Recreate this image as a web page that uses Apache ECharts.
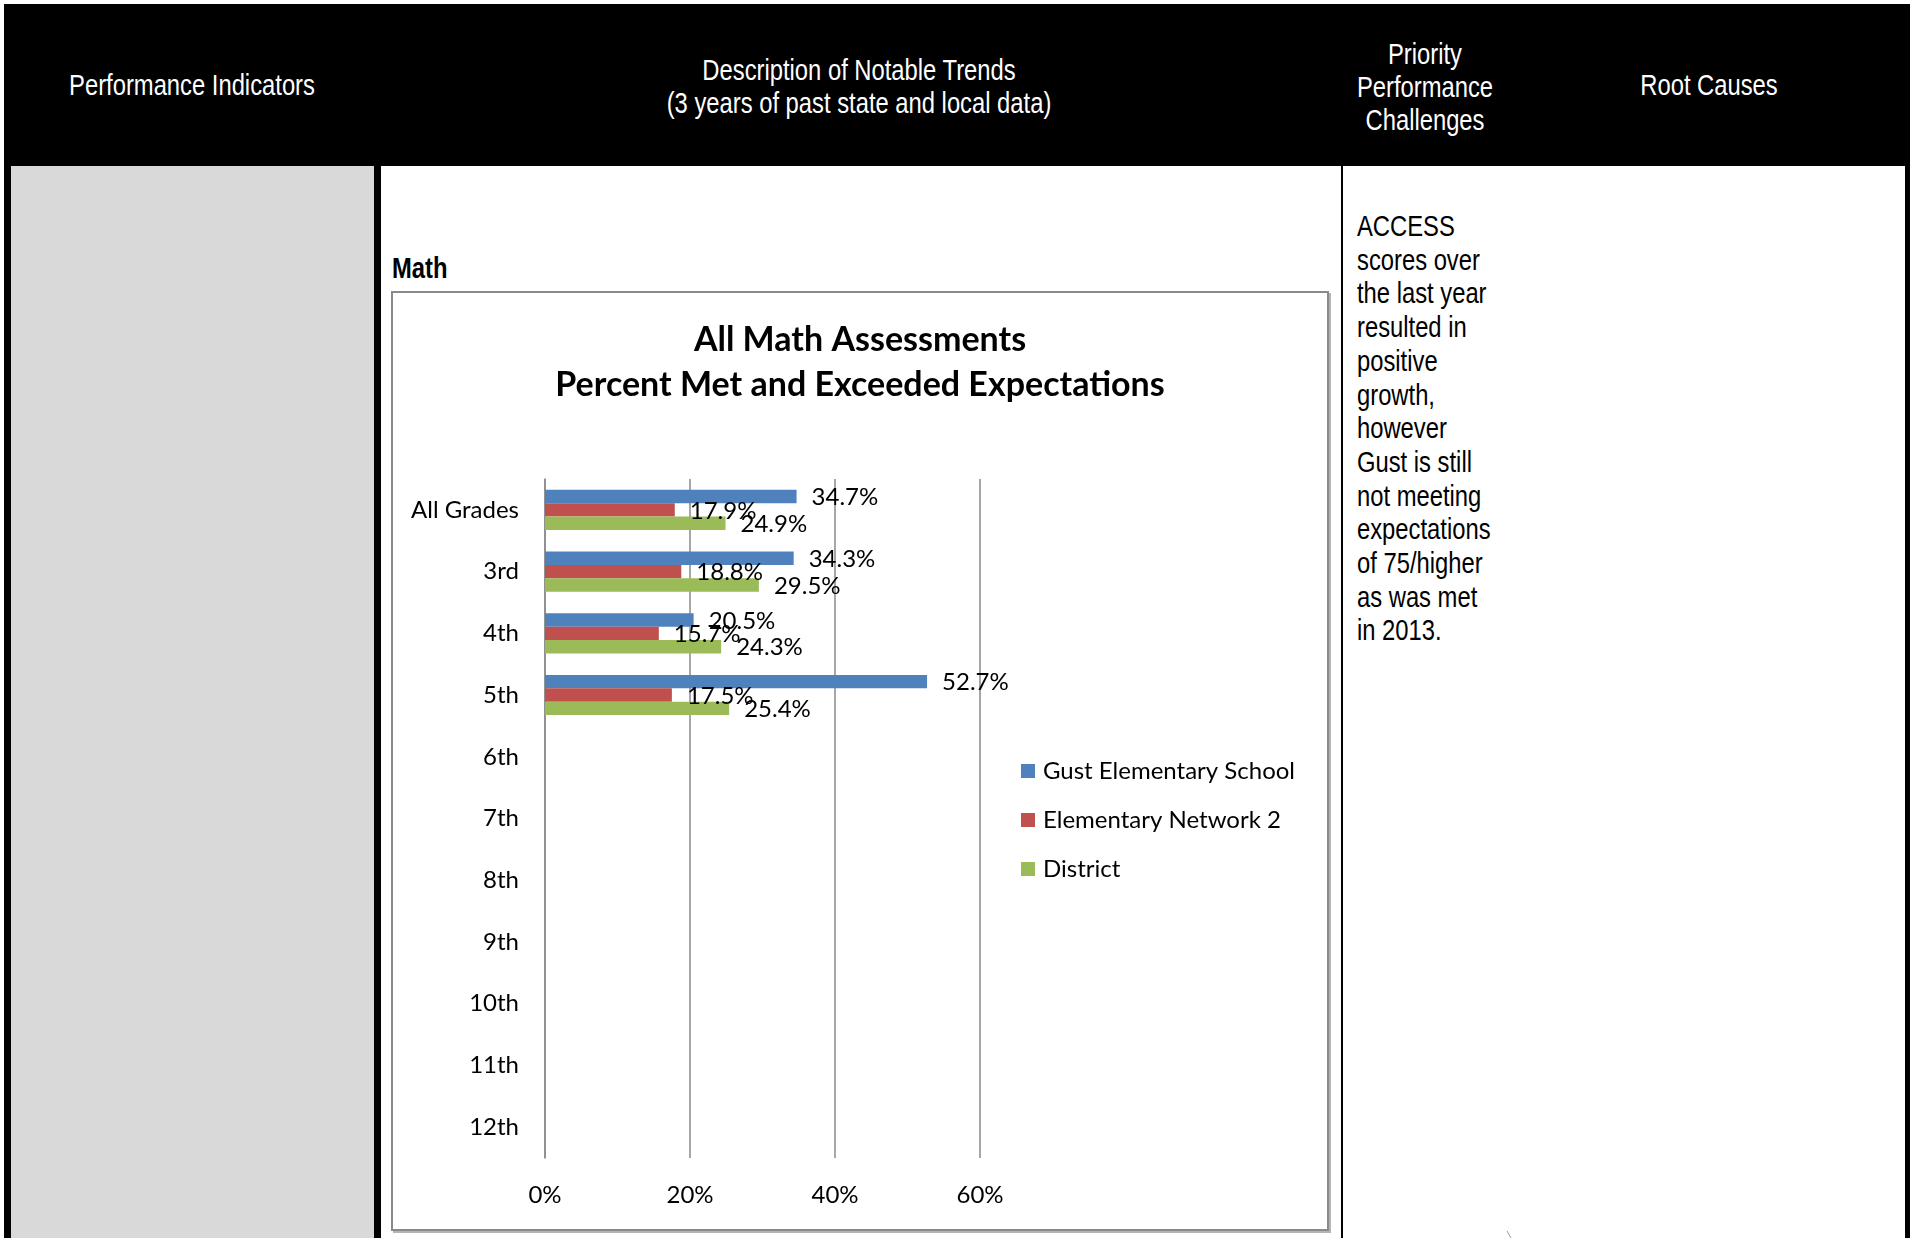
<!DOCTYPE html>
<html>
<head>
<meta charset="utf-8">
<script src="https://cdn.jsdelivr.net/npm/echarts@6/dist/echarts.min.js"></script>
<style>
  html, body { margin: 0; padding: 0; background: #ffffff; }
  body { width: 1915px; height: 1238px; position: relative; overflow: hidden; }
  .blk { position: absolute; background: #000; }
  .nar { position: absolute; white-space: nowrap; font-family: 'Liberation Sans', Arial, sans-serif; font-size: 29px; line-height: 1; }
  .hdr { color: #fff; transform: translate(-50%, -50%) scaleX(0.82); }
  .lft { color: #000; transform-origin: 0 50%; transform: translateY(-50%) scaleX(0.82); }
  #chartBox { position: absolute; left: 391px; top: 291px; width: 934px; height: 936px;
              border: 2px solid #8a8a8a; box-shadow: 2px 2px 0 #b4b4b4; background: #fff; }
  #chart { position: absolute; left: 391px; top: 291px; width: 938px; height: 940px; }
</style>
</head>
<body>
  <!-- table frame -->
  <div class="blk" style="left:4px;top:4px;width:1906px;height:162px;"></div>
  <div class="blk" style="left:4px;top:166px;width:7px;height:1072px;"></div>
  <div style="position:absolute;left:11px;top:166px;width:363px;height:1072px;background:#d9d9d9;"></div>
  <div class="blk" style="left:374px;top:166px;width:7px;height:1072px;"></div>
  <div class="blk" style="left:1341px;top:166px;width:2px;height:1072px;"></div>
  <div class="blk" style="left:1905px;top:166px;width:5px;height:1072px;"></div>

  <!-- header row -->
  <div class="nar hdr" style="left:192px;top:85px;">Performance Indicators</div>
  <div class="nar hdr" style="left:859px;top:70px;">Description of Notable Trends</div>
  <div class="nar hdr" style="left:859px;top:103px;">(3 years of past state and local data)</div>
  <div class="nar hdr" style="left:1425px;top:54px;">Priority</div>
  <div class="nar hdr" style="left:1425px;top:87px;">Performance</div>
  <div class="nar hdr" style="left:1425px;top:120px;">Challenges</div>
  <div class="nar hdr" style="left:1709px;top:85px;">Root Causes</div>

  <!-- body -->
  <div class="nar lft" style="left:392px;top:268px;font-weight:bold;">Math</div>
  <div id="notes"></div>

  <div id="chartBox"></div>
  <div id="chart"></div>

  <svg style="position:absolute;left:1500px;top:1226px;" width="20" height="12">
    <line x1="7" y1="5" x2="11" y2="12" stroke="#9a9a9a" stroke-width="1"/>
  </svg>

<script>
// Grades and the three groups compared (percent met and exceeded)
const grades = ['All Grades', '3rd', '4th', '5th', '6th', '7th', '8th', '9th', '10th', '11th', '12th'];
const seriesNames = ['Gust Elementary School', 'Elementary Network 2', 'District'];
const gustValues = [34.7, 34.3, 20.5, 52.7, null, null, null, null, null, null, null];
const networkValues = [17.9, 18.8, 15.7, 17.5, null, null, null, null, null, null, null];
const districtValues = [24.9, 29.5, 24.3, 25.4, null, null, null, null, null, null, null];
const seriesColors = ['#4f81bd', '#c0504d', '#9bbb59'];
const xTicks = { min: 0, max: 60, interval: 20 };

const noteLines = ['ACCESS', 'scores over', 'the last year', 'resulted in', 'positive', 'growth,',
  'however', 'Gust is still', 'not meeting', 'expectations', 'of 75/higher', 'as was met', 'in 2013.'];

// right-hand notes column
const notes = document.getElementById('notes');
noteLines.forEach((t, i) => {
  const d = document.createElement('div');
  d.className = 'nar lft';
  d.style.left = '1357px';
  d.style.top = (226 + i * 33.7) + 'px';
  d.textContent = t;
  notes.appendChild(d);
});

const font = 'Lato';
const chart = echarts.init(document.getElementById('chart'), null, { renderer: 'canvas' });

function barSeries(name, values, color) {
  return {
    name: name,
    type: 'bar',
    data: values,
    barGap: '0%',
    barCategoryGap: '35%',
    itemStyle: { color: color },
    label: {
      show: true,
      position: 'right',
      distance: 15,
      offset: [0, 1],
      color: '#000',
      fontFamily: font,
      fontSize: 24,
      formatter: p => (p.value == null ? '' : p.value.toFixed(1) + '%')
    },
    animation: false
  };
}

chart.setOption({
  animation: false,
  title: {
    text: 'All Math Assessments\nPercent Met and Exceeded Expectations',
    left: 'center',
    top: 27,
    padding: 0,
    textStyle: { fontFamily: font, fontWeight: 'bold', fontSize: 34, lineHeight: 45, color: '#000' }
  },
  legend: {
    orient: 'vertical',
    left: 630,
    top: 468,
    padding: 0,
    itemWidth: 14,
    itemHeight: 14,
    itemGap: 25,
    icon: 'rect',
    data: seriesNames,
    textStyle: { fontFamily: font, fontSize: 24, lineHeight: 24, color: '#000', padding: [0, 0, 0, 3] }
  },
  grid: { left: 154, top: 188, width: 435, height: 679, containLabel: false },
  xAxis: {
    type: 'value',
    min: xTicks.min,
    max: xTicks.max,
    interval: xTicks.interval,
    axisLine: { show: false },
    axisTick: { show: false },
    splitLine: { show: true, lineStyle: { color: '#8a8a8a', width: 1.5 } },
    axisLabel: { formatter: '{value}%', margin: 25, color: '#000', fontFamily: font, fontSize: 24 }
  },
  yAxis: {
    type: 'category',
    data: grades,
    inverse: true,
    axisLine: { show: true, lineStyle: { color: '#8a8a8a', width: 1.5 } },
    axisTick: { show: false },
    axisLabel: { margin: 26, color: '#000', fontFamily: font, fontSize: 24, padding: [2, 0, 0, 0] }
  },
  series: [
    barSeries(seriesNames[0], gustValues, seriesColors[0]),
    barSeries(seriesNames[1], networkValues, seriesColors[1]),
    barSeries(seriesNames[2], districtValues, seriesColors[2])
  ]
});
</script>
</body>
</html>
